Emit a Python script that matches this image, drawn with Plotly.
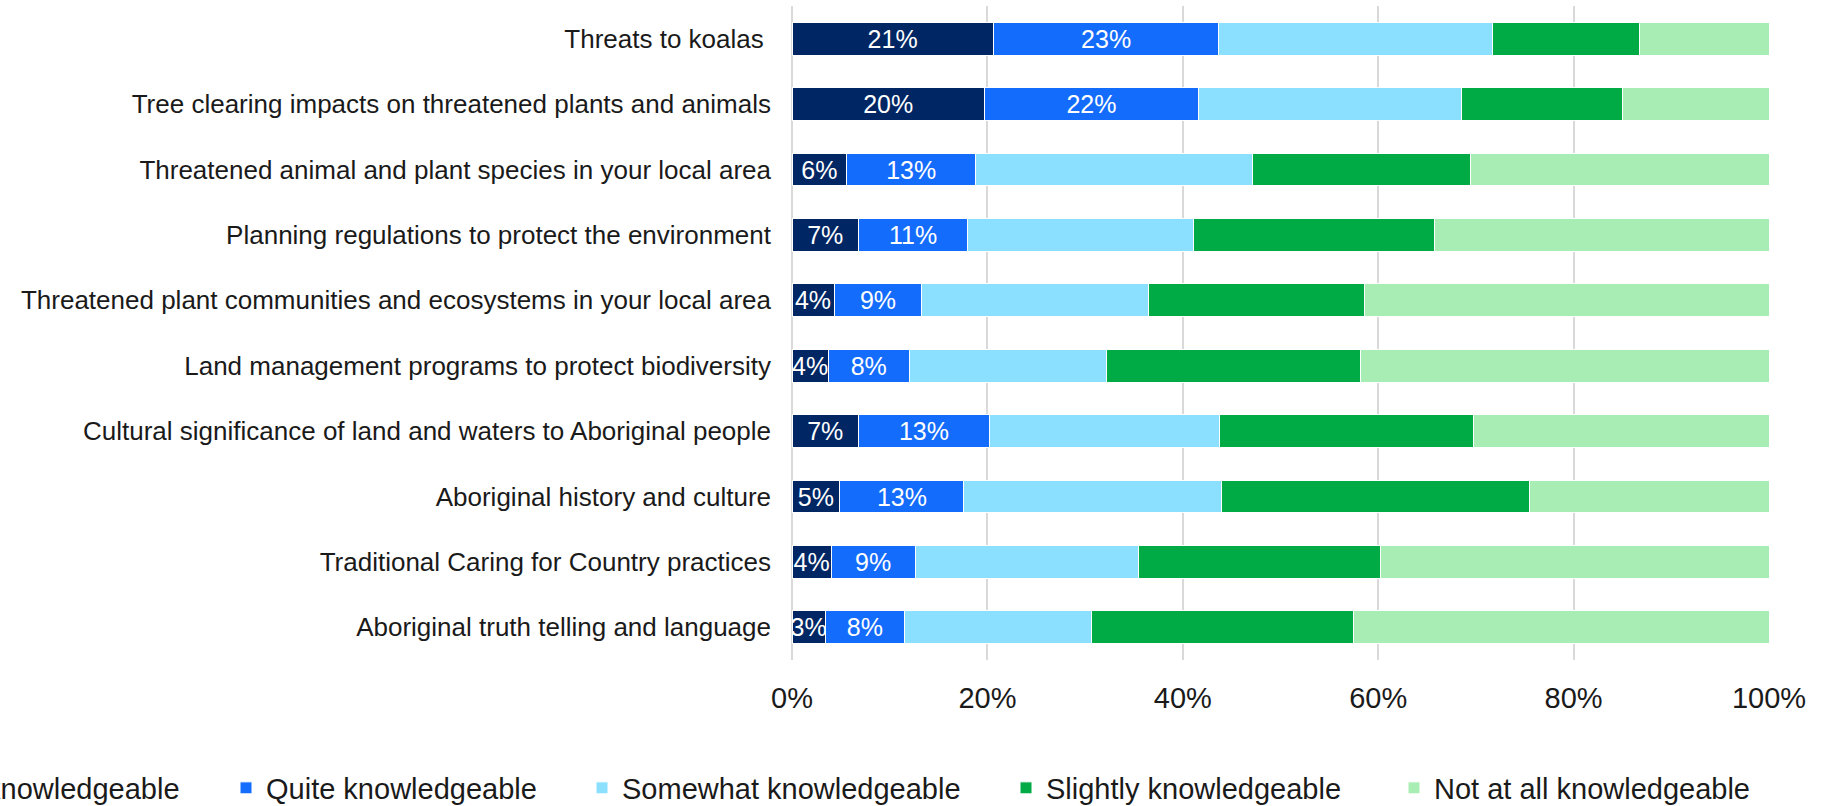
import plotly.graph_objects as go

# Survey topics, top to bottom
categories = [
    "Threats to koalas\u00a0",
    "Tree clearing impacts on threatened plants and animals",
    "Threatened animal and plant species in your local area",
    "Planning regulations to protect the environment",
    "Threatened plant communities and ecosystems in your local area",
    "Land management programs to protect biodiversity",
    "Cultural significance of land and waters to Aboriginal people",
    "Aboriginal history and culture",
    "Traditional Caring for Country practices",
    "Aboriginal truth telling and language",
]

# Share of respondents (%) per knowledge level
very = [20.6, 19.7, 5.6, 6.8, 4.3, 3.7, 6.8, 4.9, 4.0, 3.4]
quite = [23.1, 21.9, 13.2, 11.2, 9.0, 8.3, 13.4, 12.7, 8.6, 8.1]
somewhat = [28.0, 26.9, 28.3, 23.1, 23.2, 20.2, 23.6, 26.4, 22.9, 19.2]
slightly = [15.0, 16.5, 22.3, 24.7, 22.1, 26.0, 26.0, 31.5, 24.7, 26.8]
not_at_all = [13.3, 15.0, 30.6, 34.2, 41.4, 41.8, 30.2, 24.5, 39.8, 42.5]

series_names = [
    "Very knowledgeable",
    "Quite knowledgeable",
    "Somewhat knowledgeable",
    "Slightly knowledgeable",
    "Not at all knowledgeable",
]
series_values = [very, quite, somewhat, slightly, not_at_all]
series_colors = ["#002664", "#146CFD", "#8CE0FF", "#00AA45", "#A8EDB3"]
labelled = [True, True, False, False, False]

FONT = "Liberation Sans, Arial, sans-serif"
TEXT_COLOR = "#1a1a1a"

W, H = 1831, 806
M_L, M_R, M_T, M_B = 792, 62, 6, 146
plot_w = W - M_L - M_R
plot_h = H - M_T - M_B

# Each legend entry sits in its own legend box along the bottom row;
# the first box is anchored by its right edge, the others by their left edge
legend_anchor_px = [185, 226, 582, 1006, 1394]
legend_xanchor = ["right", "left", "left", "left", "left"]
legend_mid_px = 788

fig = go.Figure()
for i, (name, vals, col, lab) in enumerate(zip(series_names, series_values, series_colors, labelled)):
    legend_id = "legend" if i == 0 else f"legend{i + 1}"
    fig.add_trace(go.Bar(
        name=name,
        y=categories,
        x=vals,
        orientation="h",
        marker=dict(color=col, line=dict(color="#ffffff", width=1)),
        texttemplate="%{x:.0f}%" if lab else None,
        textposition="inside" if lab else "none",
        insidetextanchor="middle",
        constraintext="none",
        textfont=dict(family=FONT, size=25, color="#ffffff"),
        legend=legend_id,
        hoverinfo="x+y+name",
    ))

legend_layouts = {}
for i, (px, anchor) in enumerate(zip(legend_anchor_px, legend_xanchor)):
    key = "legend" if i == 0 else f"legend{i + 1}"
    legend_layouts[key] = dict(
        x=(px - M_L) / plot_w,
        xanchor=anchor,
        y=(M_T + plot_h - legend_mid_px) / plot_h,
        yanchor="middle",
        orientation="h",
        font=dict(family=FONT, size=29, color=TEXT_COLOR),
        bgcolor="rgba(0,0,0,0)",
        borderwidth=0,
    )

fig.update_layout(
    width=W,
    height=H,
    barmode="stack",
    bargap=0.5,
    showlegend=True,
    plot_bgcolor="#ffffff",
    paper_bgcolor="#ffffff",
    margin=dict(l=M_L, r=M_R, t=M_T, b=M_B, pad=0, autoexpand=False),
    font=dict(family=FONT, color=TEXT_COLOR),
    xaxis=dict(
        range=[0, 100],
        dtick=20,
        ticksuffix="%",
        showgrid=True,
        gridcolor="#D9D9D9",
        gridwidth=1.5,
        zeroline=True,
        zerolinecolor="#D9D9D9",
        zerolinewidth=1.5,
        showline=False,
        ticks="",
        ticklabelstandoff=18,
        tickfont=dict(family=FONT, size=29, color=TEXT_COLOR),
        fixedrange=True,
    ),
    yaxis=dict(
        autorange="reversed",
        showgrid=False,
        showline=False,
        ticks="",
        ticklabelstandoff=20,
        tickfont=dict(family=FONT, size=26, color=TEXT_COLOR),
        fixedrange=True,
    ),
    **legend_layouts,
)

fig.write_html("out.html")
